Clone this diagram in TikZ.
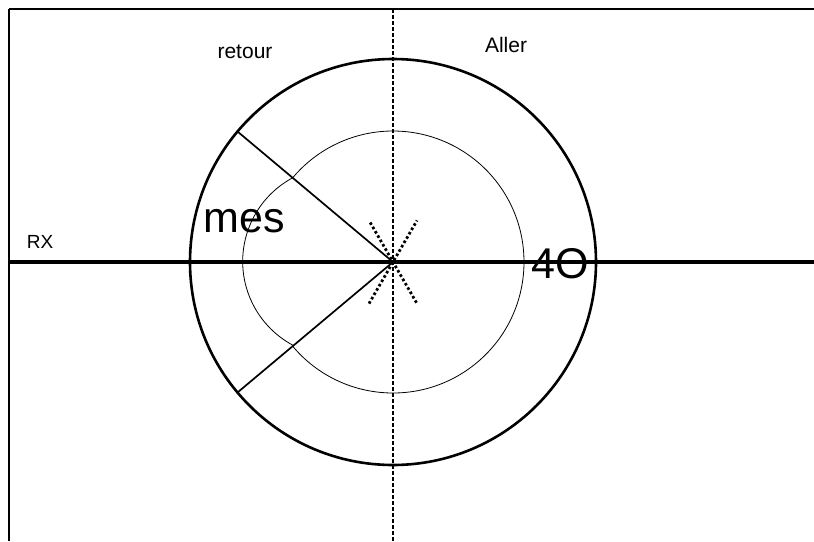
\documentclass[tikz,border=0pt]{standalone}
\usepackage{fontspec}
\setmainfont{Liberation Sans}
\usetikzlibrary{calc}
\begin{document}
\begin{tikzpicture}[x=1pt,y=-1pt,
  frame/.style={line width=2.4pt},
  axis/.style={line width=3.2pt},
  vaxis/.style={line width=1.4pt,dash pattern=on 4pt off 2pt},
  outer/.style={line width=2.6pt},
  blob/.style={line width=0.8pt},
  radius line/.style={line width=1.7pt},
  dotline/.style={line width=2.8pt,dash pattern=on 2.6pt off 2.4pt},
  lbl/.style={font=\fontsize{21}{21}\selectfont,anchor=base,inner sep=0pt},
  small lbl/.style={font=\fontsize{19}{19}\selectfont,anchor=base,inner sep=0pt},
  big/.style={font=\fontsize{43}{43}\selectfont,anchor=base,inner sep=0pt}]
\useasboundingbox (0,0) rectangle (814,541);
\fill[white] (0,0) rectangle (814,541);
\coordinate (C) at (393,262);
\coordinate (TL) at (9,9);
\coordinate (TR) at (814,9);
\coordinate (BL) at (9,541);
\coordinate (HL) at (9,262);
\coordinate (HR) at (814,262);
\coordinate (VT) at (393,9);
\coordinate (VB) at (393,541);
% frame
\draw[line width=2pt] (BL) -- (TL);
\draw[frame] (TL) -- (TR);
% blob
\draw[blob] ($(C)+(140:131)$) arc[start angle=140,end angle=-140,radius=131]
   arc[start angle=-118.3,end angle=-241.7,radius=95] -- cycle;
% outer circle
\draw[outer] (C) circle[radius=203];
% radius lines
\coordinate (RU) at ($(C)+(140:203)$);
\coordinate (RD) at ($(C)+(220:203)$);
\draw[radius line] (C) -- (RU);
\draw[radius line] (C) -- (RD);
% dotted cross
\coordinate (D1a) at ($(C)+(120:48)$);
\coordinate (D1b) at ($(C)+(300:48)$);
\coordinate (D2a) at ($(C)+(60:47)$);
\coordinate (D2b) at ($(C)+(240:47)$);
\draw[dotline] (D1a) -- (D1b);
\draw[dotline] (D2a) -- (D2b);
% axes
\draw[vaxis] (VT) -- (VB);
\draw[axis] (HL) -- (HR);
% labels
\node[lbl] (retour) at (245,58) {retour};
\node[lbl] (aller) at (506,52) {Aller};
\node[small lbl] (rx) at (40,248) {RX};
\node[big] (mes) at (244,232) {mes};
\node[big] (quarante) at (560,278) {4O};
\end{tikzpicture}
\end{document}
